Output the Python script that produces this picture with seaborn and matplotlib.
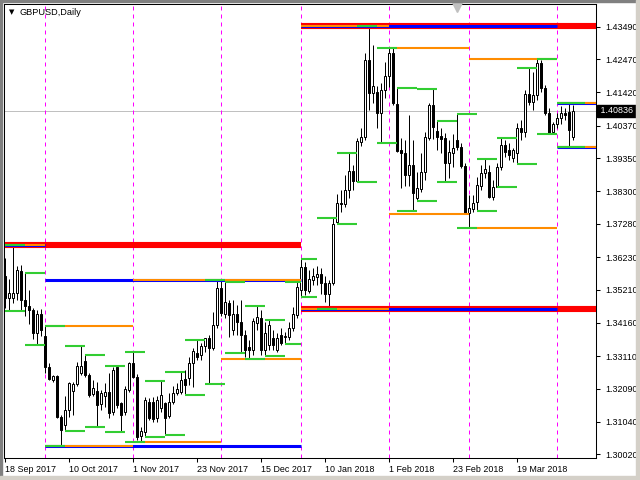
import numpy as np
import pandas as pd
import matplotlib
matplotlib.use("Agg")
import matplotlib.pyplot as plt
import matplotlib.patches as mpatches
import seaborn as sns

# daily bars shown on the chart (no bars on 25 Dec and 1 Jan)
dates = pd.bdate_range("2017-09-18", "2018-04-06").drop(pd.to_datetime(["2017-12-25", "2018-01-01"]))

# one row per week
open_ = [1.3564, 1.3495, 1.3495, 1.3510, 1.3579,
         1.3488, 1.3469, 1.3457, 1.3384, 1.3444,
         1.3375, 1.3276, 1.3236, 1.3249, 1.3119,
         1.3095, 1.3142, 1.3202, 1.3224, 1.3259,
         1.3296, 1.3252, 1.3192, 1.3201, 1.3160,
         1.3186, 1.3199, 1.3134, 1.3276, 1.3163,
         1.3136, 1.3205, 1.3289, 1.3247, 1.3060,
         1.3073, 1.3168, 1.3168, 1.3116, 1.3147,
         1.3163, 1.3123, 1.3168, 1.3194, 1.3199,
         1.3238, 1.3242, 1.3289, 1.3322, 1.3315,
         1.3343, 1.3368, 1.3337, 1.3409, 1.3525,
         1.3443, 1.3478, 1.3394, 1.3444, 1.3419,
         1.3378, 1.3341, 1.3331, 1.3417, 1.3432,
         1.3331, 1.3346, 1.3368, 1.3331, 1.3378,
         1.3372, 1.3372, 1.3399, 1.3441,
         1.3520, 1.3593, 1.3517, 1.3551,
         1.3562, 1.3570, 1.3542, 1.3507, 1.3542,
         1.3735, 1.3793, 1.3791, 1.3835, 1.3895,
         1.3863, 1.3987, 1.4002, 1.4244, 1.4141,
         1.4143, 1.4076, 1.4150, 1.4194, 1.4267,
         1.4106, 1.3961, 1.3950, 1.3882, 1.3913,
         1.3808, 1.3837, 1.3892, 1.3997, 1.4102,
         1.4021, 1.4005, 1.3997, 1.3919, 1.3952,
         1.3992, 1.3969, 1.3910, 1.3761, 1.3774,
         1.3798, 1.3847, 1.3887, 1.3892, 1.3813,
         1.3845, 1.3908, 1.3976, 1.3961, 1.3935,
         1.3951, 1.4030, 1.4017, 1.4137, 1.4112,
         1.4134, 1.4235, 1.4156, 1.4077, 1.4017,
         1.4042, 1.4061, 1.4077, 1.4080, 1.4002]
high = [1.3620, 1.3554, 1.3661, 1.3595, 1.3598,
        1.3574, 1.3520, 1.3463, 1.3457, 1.3460,
        1.3406, 1.3291, 1.3252, 1.3252, 1.3126,
        1.3186, 1.3231, 1.3231, 1.3294, 1.3342,
        1.3316, 1.3257, 1.3236, 1.3231, 1.3205,
        1.3226, 1.3259, 1.3278, 1.3281, 1.3168,
        1.3217, 1.3294, 1.3324, 1.3255, 1.3089,
        1.3183, 1.3179, 1.3183, 1.3186, 1.3233,
        1.3168, 1.3195, 1.3217, 1.3227, 1.3261,
        1.3268, 1.3309, 1.3337, 1.3362, 1.3353,
        1.3368, 1.3378, 1.3451, 1.3551, 1.3551,
        1.3544, 1.3488, 1.3488, 1.3472, 1.3488,
        1.3394, 1.3362, 1.3431, 1.3470, 1.3457,
        1.3420, 1.3425, 1.3394, 1.3384, 1.3400,
        1.3387, 1.3419, 1.3467, 1.3545,
        1.3616, 1.3609, 1.3583, 1.3589,
        1.3595, 1.3589, 1.3564, 1.3551, 1.3745,
        1.3821, 1.3835, 1.3882, 1.3950, 1.3913,
        1.3998, 1.4030, 1.4266, 1.4352, 1.4291,
        1.4162, 1.4172, 1.4239, 1.4283, 1.4282,
        1.4157, 1.3998, 1.3992, 1.4071, 1.3992,
        1.3892, 1.3950, 1.4018, 1.4110, 1.4152,
        1.4053, 1.4030, 1.4014, 1.3992, 1.4011,
        1.4074, 1.3983, 1.3920, 1.3819, 1.3819,
        1.3877, 1.3913, 1.3932, 1.3913, 1.3866,
        1.3920, 1.3998, 1.3992, 1.3983, 1.3967,
        1.4046, 1.4055, 1.4150, 1.4220, 1.4206,
        1.4248, 1.4244, 1.4165, 1.4093, 1.4049,
        1.4077, 1.4099, 1.4093, 1.4109, 1.4102]
low = [1.3463, 1.3454, 1.3479, 1.3488, 1.3457,
       1.3438, 1.3413, 1.3365, 1.3347, 1.3375,
       1.3257, 1.3236, 1.3230, 1.3116, 1.3029,
       1.3076, 1.3121, 1.3126, 1.3217, 1.3252,
       1.3246, 1.3183, 1.3186, 1.3088, 1.3142,
       1.3152, 1.3116, 1.3126, 1.3148, 1.3073,
       1.3126, 1.3198, 1.3242, 1.3047, 1.3041,
       1.3058, 1.3110, 1.3104, 1.3104, 1.3135,
       1.3063, 1.3116, 1.3160, 1.3189, 1.3192,
       1.3190, 1.3220, 1.3214, 1.3299, 1.3299,
       1.3324, 1.3224, 1.3331, 1.3400, 1.3438,
       1.3431, 1.3373, 1.3378, 1.3378, 1.3322,
       1.3309, 1.3302, 1.3315, 1.3394, 1.3315,
       1.3313, 1.3331, 1.3331, 1.3324, 1.3346,
       1.3350, 1.3362, 1.3390, 1.3431,
       1.3499, 1.3504, 1.3510, 1.3535,
       1.3535, 1.3507, 1.3482, 1.3460, 1.3535,
       1.3728, 1.3765, 1.3781, 1.3809, 1.3835,
       1.3861, 1.3973, 1.3992, 1.4087, 1.4110,
       1.4030, 1.3984, 1.4123, 1.4160, 1.4102,
       1.3954, 1.3840, 1.3847, 1.3847, 1.3769,
       1.3801, 1.3829, 1.3866, 1.3992, 1.3995,
       1.3961, 1.3951, 1.3861, 1.3872, 1.3908,
       1.3961, 1.3904, 1.3760, 1.3715, 1.3766,
       1.3769, 1.3835, 1.3872, 1.3809, 1.3803,
       1.3845, 1.3898, 1.3939, 1.3929, 1.3923,
       1.3917, 1.3992, 1.4002, 1.4102, 1.4087,
       1.4118, 1.4143, 1.4071, 1.4011, 1.4011,
       1.4030, 1.4042, 1.4055, 1.3970, 1.3992]
close = [1.3495, 1.3510, 1.3510, 1.3583, 1.3488,
         1.3469, 1.3457, 1.3384, 1.3444, 1.3394,
         1.3276, 1.3238, 1.3249, 1.3119, 1.3079,
         1.3142, 1.3226, 1.3224, 1.3280, 1.3280,
         1.3252, 1.3189, 1.3210, 1.3157, 1.3194,
         1.3199, 1.3131, 1.3268, 1.3157, 1.3126,
         1.3207, 1.3289, 1.3247, 1.3058, 1.3076,
         1.3173, 1.3116, 1.3112, 1.3173, 1.3189,
         1.3116, 1.3168, 1.3194, 1.3207, 1.3236,
         1.3220, 1.3289, 1.3328, 1.3310, 1.3343,
         1.3368, 1.3337, 1.3409, 1.3525, 1.3446,
         1.3481, 1.3441, 1.3444, 1.3419, 1.3378,
         1.3331, 1.3331, 1.3423, 1.3435, 1.3331,
         1.3383, 1.3409, 1.3346, 1.3368, 1.3353,
         1.3375, 1.3399, 1.3444, 1.3530,
         1.3593, 1.3520, 1.3554, 1.3564,
         1.3570, 1.3542, 1.3507, 1.3542, 1.3728,
         1.3793, 1.3791, 1.3835, 1.3895, 1.3863,
         1.3990, 1.4002, 1.4244, 1.4141, 1.4162,
         1.4076, 1.4150, 1.4194, 1.4267, 1.4110,
         1.3958, 1.3950, 1.3882, 1.3913, 1.3824,
         1.3840, 1.3892, 1.4002, 1.4102, 1.4034,
         1.4001, 1.3996, 1.3919, 1.3955, 1.3966,
         1.3969, 1.3910, 1.3761, 1.3777, 1.3795,
         1.3850, 1.3887, 1.3900, 1.3813, 1.3845,
         1.3908, 1.3976, 1.3954, 1.3945, 1.3961,
         1.4030, 1.4017, 1.4137, 1.4112, 1.4134,
         1.4235, 1.4156, 1.4077, 1.4014, 1.4042,
         1.4061, 1.4077, 1.4071, 1.4024, 1.40836]

# period highs / lows drawn as horizontal levels
week_start = pd.date_range("2017-09-18", "2018-04-02", freq="W-MON")
week_high = [1.3661, 1.3574, 1.3406, 1.3342, 1.3316, 1.3281, 1.3324, 1.3233, 1.3261, 1.3362,
             1.3551, 1.3544, 1.3470, 1.3425, 1.3545, 1.3616, 1.3745, 1.3950, 1.4352, 1.4283,
             1.4157, 1.4152, 1.4053, 1.4074, 1.3932, 1.3998, 1.4220, 1.4248, 1.4109]
week_low = [1.3454, 1.3347, 1.3029, 1.3076, 1.3088, 1.3073, 1.3041, 1.3058, 1.3063, 1.3190,
            1.3224, 1.3322, 1.3302, 1.3313, 1.3350, 1.3499, 1.3460, 1.3728, 1.3861, 1.3984,
            1.3769, 1.3801, 1.3861, 1.3715, 1.3769, 1.3845, 1.3917, 1.4011, 1.3970]
month_start = pd.date_range("2017-09-01", "2018-04-01", freq="MS")
month_high = [1.3661, 1.3406, 1.3551, 1.3551, 1.4352, 1.4283, 1.4248, 1.4109]
month_low = [np.nan, 1.3029, 1.3041, 1.3302, 1.3460, 1.3760, 1.3715, 1.3970]
quarter_start = pd.date_range("2017-07-01", "2018-04-01", freq="QS")
quarter_high = [1.3661, 1.3551, 1.4352, 1.4109]
quarter_low = [np.nan, 1.3029, 1.3460, 1.3970]
half_start = pd.to_datetime(["2017-07-01", "2018-01-01"])
half_high = [1.3661, 1.4352]
half_low = [np.nan, 1.3460]

bid = 1.40836
price_ticks = [1.30020, 1.31040, 1.32090, 1.33110, 1.34160, 1.35210, 1.36230,
               1.37280, 1.38300, 1.39350, 1.40370, 1.41420, 1.42470, 1.43490]

df = pd.DataFrame({"open": open_, "high": high, "low": low, "close": close}, index=dates)
df["x"] = np.arange(len(df))


def bar_pos(ts):
    i = dates.searchsorted(ts)
    if i < len(dates):
        return i
    # future time is counted one calendar day per bar
    return len(dates) - 1 + (ts - dates[-1]).days


sns.set_theme(style="white")
plt.rcParams["font.family"] = ["Liberation Sans", "DejaVu Sans"]

fig = plt.figure(figsize=(6.4, 4.8), dpi=100)
ax = fig.add_axes([4 / 640, 22 / 480, 592 / 640, 454 / 480])
ax.set_facecolor("white")

# candles
up = df[df.close >= df.open]
dn = df[df.close < df.open]
ax.vlines(df.x, df.low, df.high, color="black", lw=0.72, zorder=2)
ax.bar(up.x, up.close - up.open, bottom=up.open, width=0.5, color="white",
       edgecolor="black", linewidth=0.72, zorder=3)
ax.bar(dn.x, dn.open - dn.close, bottom=dn.close, width=0.5, color="black",
       edgecolor="black", linewidth=0.72, zorder=3)

# bid line and month separators
ax.axhline(bid, color="#C0C0C0", lw=0.72, zorder=1)
for m in month_start[1:]:
    ax.axvline(bar_pos(m), color="#FF00FF", lw=0.72, ls=(0, (4, 4)), zorder=1)

# levels: half-year red, quarter blue, month orange, week green
levels = [
    (half_start, pd.DateOffset(months=6), half_high, half_low, "#FF0000", 4.4),
    (quarter_start, pd.DateOffset(months=3), quarter_high, quarter_low, "#0000FF", 2.2),
    (month_start, pd.DateOffset(months=1), month_high, month_low, "#FF8C00", 1.5),
    (week_start, pd.DateOffset(days=7), week_high, week_low, "#32CD32", 1.5),
]
for z, (starts, step, hi, lo, col, lw) in enumerate(levels):
    x0 = [bar_pos(s) for s in starts]
    x1 = [bar_pos(s + step) for s in starts]
    ax.hlines(hi, x0, x1, color=col, lw=lw, zorder=4 + z)
    ax.hlines(lo, x0, x1, color=col, lw=lw, zorder=4 + z)

ax.set_xlim(-0.25, 147.75)
ax.set_ylim(1.29904, 1.44205)

# axes
xt = np.arange(0, len(dates), 16)
ax.set_xticks(xt)
ax.set_xticklabels([f"{d.day} {d:%b %Y}" for d in dates[xt]], ha="left")
ax.yaxis.tick_right()
ax.set_yticks(price_ticks)
ax.set_yticklabels([f"{p:.5f}" for p in price_ticks])
ax.tick_params(axis="both", direction="out", length=3, width=0.75, color="black",
               labelsize=6.4, labelcolor="black", bottom=True, right=True, left=False)
ax.tick_params(axis="x", pad=2)
ax.tick_params(axis="y", pad=3.5)
for s in ax.spines.values():
    s.set_color("black")
    s.set_linewidth(0.75)
ax.grid(False)

# current price label
ax.text(1.0034, bid, " 1.40836 ", transform=ax.get_yaxis_transform(), ha="left", va="center",
        fontsize=6.4, color="white", zorder=10, clip_on=False,
        bbox=dict(boxstyle="square,pad=0.15", fc="black", ec="black"))

# title and chart shift marker
ax.text(0.009, 0.981, "\u25BC", transform=ax.transAxes, fontsize=5, family="DejaVu Sans",
        va="center", ha="left", color="black")
ax.text(0.027, 0.981, "GBPUSD,Daily", transform=ax.transAxes, fontsize=6.6,
        va="center", ha="left", color="black")
ax.plot([0.766], [0.9925], marker="v", markersize=6.5, color="#C0C0C0", mec="#C0C0C0",
        transform=ax.transAxes, clip_on=False, zorder=10)

# window frame
fig.patches.append(mpatches.Rectangle((0, 0), 2 / 640, 1, transform=fig.transFigure,
                                      color="#808080", zorder=0))
fig.patches.append(mpatches.Rectangle((0, 478 / 480), 1, 2 / 480, transform=fig.transFigure,
                                      color="#808080", zorder=0))
fig.patches.append(mpatches.Rectangle((0, 0), 1, 4 / 480, transform=fig.transFigure,
                                      color="#D4D0C8", zorder=0))
fig.patches.append(mpatches.Rectangle((636 / 640, 0), 4 / 640, 1, transform=fig.transFigure,
                                      color="#D4D0C8", zorder=0))

fig.savefig("out.png", dpi=100, facecolor="white")
